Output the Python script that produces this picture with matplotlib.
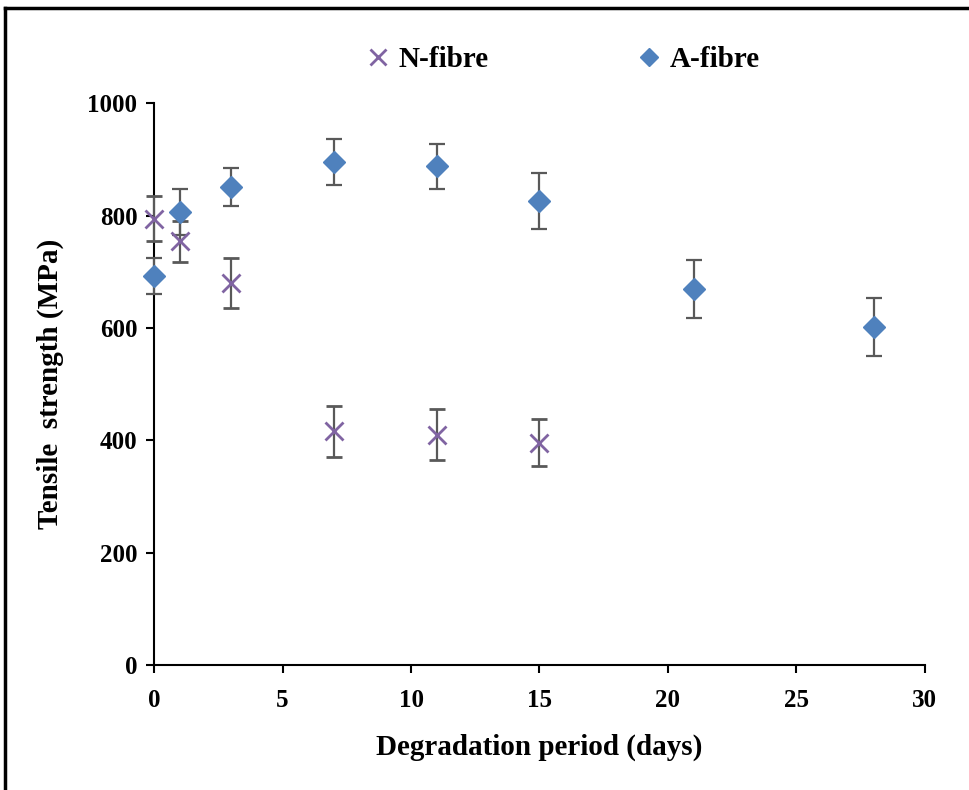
import numpy as np
import matplotlib.pyplot as plt
from matplotlib.lines import Line2D

# Data
n_days = [0, 1, 3, 7, 11, 15]
n_strength = [794, 754, 680, 416, 410, 396]
n_err = [40, 37, 44, 45, 45, 42]

a_days = [0, 1, 3, 7, 11, 15, 21, 28]
a_strength = [692, 806, 851, 896, 888, 826, 669, 602]
a_err = [32, 41, 34, 41, 40, 50, 52, 52]

plt.rcParams['font.family'] = ['Liberation Serif', 'DejaVu Serif']
plt.rcParams['font.weight'] = 'bold'

fig = plt.figure(figsize=(9.69, 7.9), dpi=100)
ax = fig.add_axes([0.159, 0.158, 0.7955, 0.7115])

err_style = dict(ecolor='#595959', elinewidth=1.6, capsize=6, capthick=1.6, linestyle='none')
ax.errorbar(n_days, n_strength, yerr=n_err, marker='x', markersize=13,
            markeredgewidth=2, color='#8064A2', label='N-fibre', zorder=3, **err_style)
ax.errorbar(a_days, a_strength, yerr=a_err, marker='D', markersize=11,
            color='#4F81BD', markeredgecolor='#4F81BD', label='A-fibre', zorder=3, **err_style)

ax.set_xlim(0, 30)
ax.set_ylim(0, 1000)
ax.set_xticks(np.arange(0, 31, 5))
ax.set_yticks(np.arange(0, 1001, 200))
for s in ['top', 'right']:
    ax.spines[s].set_visible(False)
for s in ['left', 'bottom']:
    ax.spines[s].set_linewidth(1.5)
ax.tick_params(direction='out', length=6, width=1.5, labelsize=18)
ax.tick_params(axis='x', pad=11)
ax.tick_params(axis='y', pad=6)
for lab in ax.get_xticklabels() + ax.get_yticklabels():
    lab.set_fontweight('bold')
for c in ax.get_children():
    c.set_clip_on(False)

ax.set_xlabel('Degradation period (days)', fontsize=21, fontweight='bold', labelpad=16)
ax.set_ylabel('Tensile  strength (MPa)', fontsize=21, fontweight='bold', labelpad=17)

# legend without error bars
handles = [Line2D([], [], marker='x', color='#8064A2', linestyle='none', markersize=11, markeredgewidth=2),
           Line2D([], [], marker='D', color='#4F81BD', linestyle='none', markersize=9)]
fig.legend(handles, ['N-fibre', 'A-fibre'], loc='center', bbox_to_anchor=(0.578, 0.925),
           ncol=2, frameon=False, columnspacing=4.9, handletextpad=0.1, handlelength=1.2,
           prop={'size': 21, 'weight': 'bold'})

# outer border (top and left)
fig.add_artist(Line2D([5 / 969, 1], [1 - 8 / 790, 1 - 8 / 790], color='black', linewidth=2.5))
fig.add_artist(Line2D([5 / 969, 5 / 969], [0, 1 - 8 / 790], color='black', linewidth=2.5))

fig.savefig('out.png', dpi=100)
